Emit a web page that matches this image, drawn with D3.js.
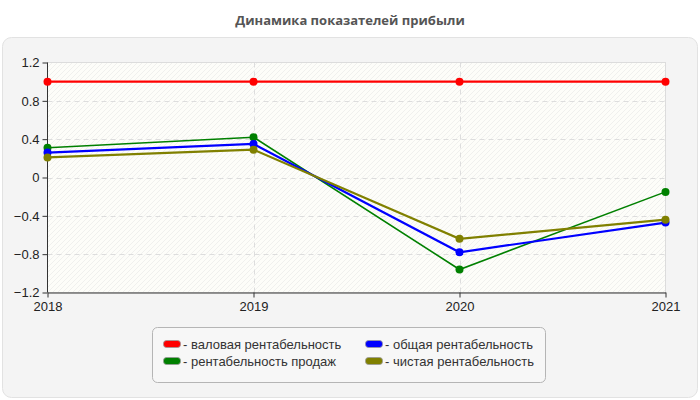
<!DOCTYPE html>
<html><head><meta charset="utf-8">
<script src="https://cdn.jsdelivr.net/npm/d3@7"></script>
<style>body{margin:0;background:#fff;}svg{display:block;}</style>
</head><body>
<svg id="chart" width="700" height="400"></svg>
<script>
const years = ["2018", "2019", "2020", "2021"];
const seriesNames = ["валовая рентабельность", "рентабельность продаж", "общая рентабельность", "чистая рентабельность"];
const seriesColors = ["#ff0000", "#008000", "#0000ff", "#808000"];
const grossMargin = [1.0, 1.0, 1.0, 1.0];
const salesMargin = [0.31, 0.42, -0.96, -0.15];
const totalMargin = [0.26, 0.35, -0.78, -0.47];
const netMargin = [0.21, 0.29, -0.64, -0.44];
const yTicks = [-1.2, -0.8, -0.4, 0, 0.4, 0.8, 1.2];
const title = "Динамика показателей прибыли";

(function () {
const seriesValues = [grossMargin, salesMargin, totalMargin, netMargin];
const svg = d3.select("#chart");
const font = "Arial, 'Liberation Sans', sans-serif";

svg.append("text").attr("x", 350).attr("y", 25).attr("text-anchor", "middle")
  .attr("font-family", "'Open Sans', sans-serif").attr("font-weight", "bold")
  .attr("font-size", 13).attr("fill", "#555").text(title);

svg.append("rect").attr("x", 2.5).attr("y", 37.5).attr("width", 695).attr("height", 360)
  .attr("rx", 9).attr("fill", "#f4f4f4").attr("stroke", "#e2e2e2");

const defs = svg.append("defs");
const pat = defs.append("pattern").attr("id", "hatch").attr("patternUnits", "userSpaceOnUse")
  .attr("width", 5).attr("height", 5);
pat.append("rect").attr("width", 5).attr("height", 5).attr("fill", "#fdfdf9");
pat.append("path").attr("d", "M0,5 L5,0 M-1,1 L1,-1 M4,6 L6,4").attr("stroke", "#f0f0ee").attr("stroke-width", 1);

const pL = 47.5, pR = 665.5, pT = 62.5, pB = 292.5;
const x = d3.scalePoint().domain(years).range([pL, pR]);
const y = d3.scaleLinear().domain([-1.2, 1.2]).range([pB, pT]);

svg.append("rect").attr("x", pL).attr("y", pT).attr("width", pR - pL).attr("height", pB - pT)
  .attr("fill", "url(#hatch)").attr("stroke", "#dcdcdc");

const g = svg.append("g");
g.selectAll("line.hg").data(yTicks.slice(1, -1)).join("line")
  .attr("x1", pL).attr("x2", pR).attr("y1", d => Math.round(y(d)) + 0.5).attr("y2", d => Math.round(y(d)) + 0.5)
  .attr("stroke", "#dddddd").attr("stroke-dasharray", "5,4");
g.selectAll("line.vg").data(years.slice(1, -1)).join("line")
  .attr("x1", d => Math.round(x(d)) + 0.5).attr("x2", d => Math.round(x(d)) + 0.5).attr("y1", pT).attr("y2", pB)
  .attr("stroke", "#dddddd").attr("stroke-dasharray", "5,4");

const yAxis = svg.append("g").attr("transform", `translate(${pL},0)`)
  .call(d3.axisLeft(y).tickValues(yTicks).tickSize(5).tickPadding(3).tickFormat(d => d === 0 ? "0" : d3.format(".1f")(d)));
const xAxis = svg.append("g").attr("transform", `translate(0,${pB})`)
  .call(d3.axisBottom(x).tickSize(5).tickPadding(4).tickSizeOuter(0));
[yAxis, xAxis].forEach(a => {
  a.select(".domain").attr("stroke", "#333");
  a.selectAll(".tick line").attr("stroke", "#333");
  a.selectAll("text").attr("font-family", font).attr("font-size", 13).attr("fill", "#222");
});
yAxis.select(".domain").attr("d", `M0,${pT}V${pB}`);

const line = d3.line().x((d, i) => x(years[i])).y(d => y(d));
seriesValues.forEach((vals, s) => {
  svg.append("path").datum(vals).attr("d", line).attr("fill", "none")
    .attr("stroke", seriesColors[s]).attr("stroke-width", s === 1 ? 1.6 : 2.2);
});
seriesValues.forEach((vals, s) => {
  svg.append("g").selectAll("circle").data(vals).join("circle")
    .attr("cx", (d, i) => x(years[i])).attr("cy", d => y(d)).attr("r", 4)
    .attr("fill", seriesColors[s]);
});

svg.append("rect").attr("x", 152.5).attr("y", 327.5).attr("width", 393).attr("height", 55)
  .attr("rx", 5).attr("fill", "#f7f7f7").attr("stroke", "#b5b5b5");
const legendOrder = [0, 2, 1, 3];
legendOrder.forEach((s, k) => {
  const col = k % 2, row = Math.floor(k / 2);
  const lx = col === 0 ? 163 : 365;
  const ly = 344 + row * 17;
  svg.append("rect").attr("x", lx + 0.5).attr("y", ly - 3.5).attr("width", 17).attr("height", 7)
    .attr("rx", 3).attr("fill", seriesColors[s]).attr("stroke", "#999").attr("stroke-width", 0.8);
  svg.append("text").attr("x", lx + 20).attr("y", ly + 4.5).attr("font-family", font)
    .attr("font-size", 13).attr("fill", "#333").text("- " + seriesNames[s]);
});
})();
</script>
</body></html>
